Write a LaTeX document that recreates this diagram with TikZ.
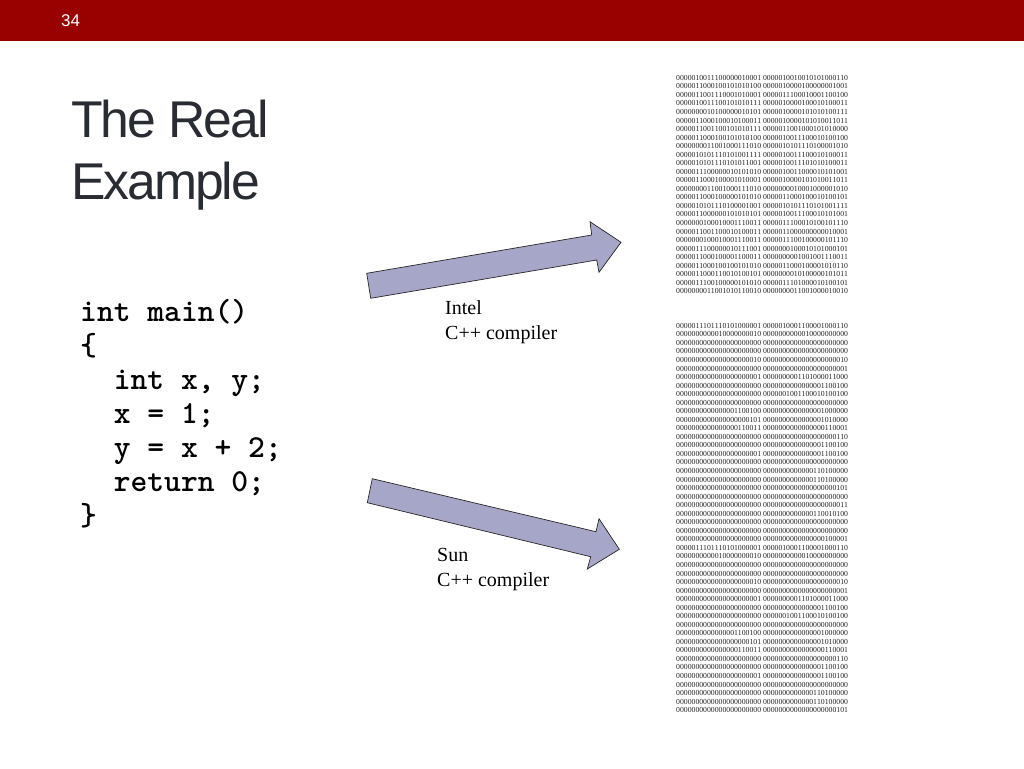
\documentclass[tikz,border=0pt]{standalone}
\usepackage{fontspec}
\setmainfont{Liberation Serif}
\newfontfamily\sansfam{Liberation Sans}
\newfontfamily\titlefam[LetterSpace=-4]{Liberation Sans}
\newfontfamily\binfam[Kerning=Off]{Liberation Serif}
\newcommand\zz{0000000000000000000000}
\newcommand\bincycle{%
0000011101110101000001 0000010001100001000110\\
0000000000010000000010 0000000000010000000000\\
\zz\ \zz\\
\zz\ \zz\\
0000000000000000000010 0000000000000000000010\\
\zz\ 0000000000000000000001\\
0000000000000000000001 0000000001101000011000\\
\zz\ 0000000000000001100100\\
\zz\ 0000001001100010100100\\
\zz\ \zz\\
0000000000000001100100 0000000000000001000000\\
0000000000000000000101 0000000000000001010000\\
0000000000000000110011 0000000000000000110001\\
\zz\ 0000000000000000000110\\
\zz\ 0000000000000001100100\\
0000000000000000000001 0000000000000001100100\\
\zz\ \zz\\
\zz\ 0000000000000110100000\\
\zz\ 0000000000000110100000\\
\zz\ 0000000000000000000101}
\definecolor{headred}{HTML}{990000}
\definecolor{titleink}{HTML}{2A2C33}
\definecolor{arrowfill}{HTML}{A6A7C8}
\tikzset{
  x=1pt,y=-1pt,
  binblock/.style={anchor=north west,inner sep=0pt,align=left,text=black!85,font=\binfam\fontsize{7.72}{8.54}\selectfont},
  titletext/.style={anchor=north west,inner sep=0pt,align=left,text=titleink,font=\titlefam\fontsize{51.7}{62}\selectfont},
  codetext/.style={anchor=north west,inner sep=0pt,align=left,text=black,font=\ttfamily\bfseries\fontsize{32}{34}\selectfont},
  labeltext/.style={anchor=north west,inner sep=0pt,align=left,text=black,font=\fontsize{20}{25}\selectfont},
  blockarrow/.style={draw=black!85,line width=0.7pt,fill=arrowfill,line join=miter}
}
\begin{document}
\begin{tikzpicture}
\useasboundingbox (0,0) rectangle (1024,768);
\fill[headred] (0,0) rectangle (1024,41);
\node[anchor=base west,inner sep=0pt,text=white,font=\sansfam\fontsize{17}{18}\selectfont] (num) at (61,27) {34};
\node[titletext] (title) at (71,99.5) {The Real\\Example};
\node[codetext] (code) at (80,299) {int main()\\\{\\\ \ int x, y;\\\ \ x = 1;\\\ \ y = x + 2;\\\ \ return 0;\\\}};
\draw[blockarrow] (366.7,273.3) -- (591.7,235) -- (590,221.7) -- (621,242.3) -- (599,272.3) -- (596.7,260) -- (370.7,298.3) -- cycle;
\draw[blockarrow] (372.3,478.7) -- (596,531.7) -- (599,518.7) -- (619.3,549.3) -- (587.3,569) -- (590.7,556.7) -- (367.3,502.7) -- cycle;
\node[labeltext] (intel) at (445,300.5) {Intel\\C++ compiler};
\node[labeltext] (sun) at (437,548) {Sun\\C++ compiler};
\node[binblock] (binA) at (676,75) {%
0000010011100000010001 0000010010010101000110\\
0000011000100101010100 0000010000100000001001\\
0000011001110001010001 0000011100010001100100\\
0000010011100101010111 0000010000100010100011\\
0000000010100000010101 0000010000101010100111\\
0000011000100010100011 0000010000101010011011\\
0000011001100101010111 0000011001000101010000\\
0000011000100101010100 0000010011100010100100\\
0000000011001000111010 0000010101110100001010\\
0000010101110101001111 0000010011100010100011\\
0000010101110101011001 0000010011101010100011\\
0000011100000010101010 0000010011000010101001\\
0000011000100001010001 0000010000101010011011\\
0000000011001000111010 0000000010001000001010\\
0000011000100000101010 0000011000100010100101\\
0000010101110100001001 0000010101110101001111\\
0000011000000101010101 0000010011100010101001\\
0000000100010001110011 0000011100010100101110\\
0000011001100010100011 0000011000000000010001\\
0000000100010001110011 0000011100100000101110\\
0000011100000010111001 0000000100010101000101\\
0000011000100001100011 0000000001001001110011\\
0000011000100100101010 0000011000100001010110\\
0000011000110010100101 0000000010100000101011\\
0000011100100000101010 0000011101000010100101\\
0000000011001010110010 0000000011001000010010};
\node[binblock] (binB) at (676,323) {%
\bincycle\\
\zz\ \zz\\
\zz\ 0000000000000000000011\\
\zz\ 0000000000000110010100\\
\zz\ \zz\\
\zz\ \zz\\
\zz\ 0000000000000000100001\\
\bincycle};
\end{tikzpicture}
\end{document}
